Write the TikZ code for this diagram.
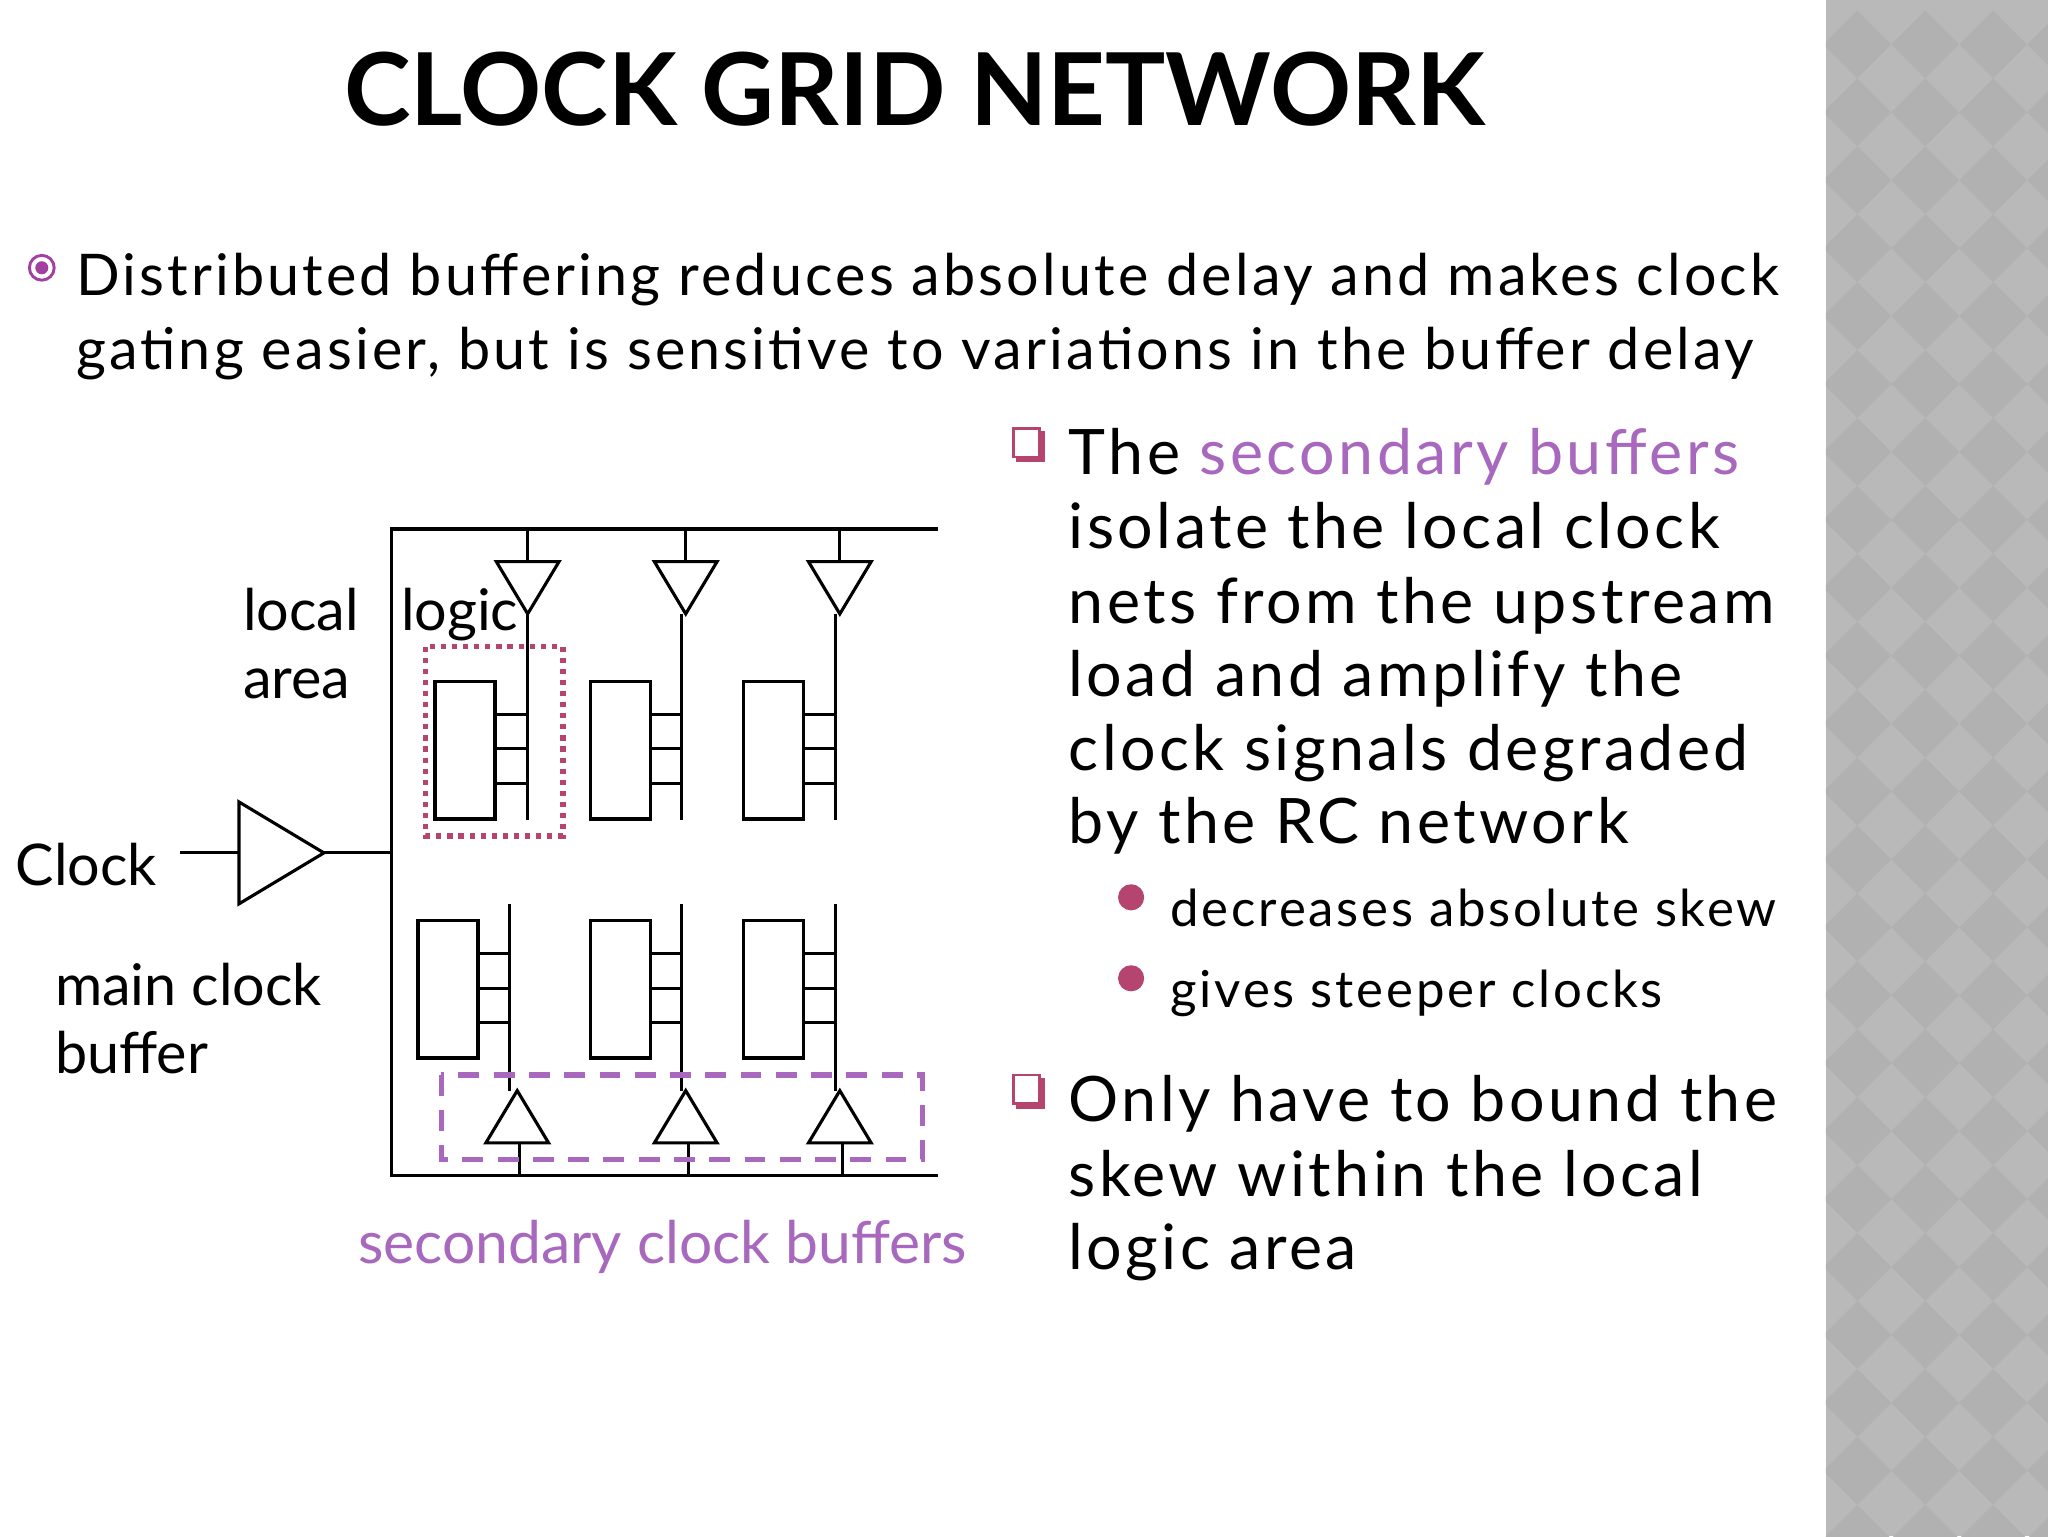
\documentclass[tikz,border=0pt]{standalone}
\usepackage{fontspec}
\setmainfont{Lato}[LetterSpace=5.5]
\newfontfamily\plainlato{Lato}
\definecolor{purp}{HTML}{A868BE}
\definecolor{crim}{HTML}{B5446E}
\definecolor{bulp}{HTML}{A23FA0}
\definecolor{panel}{HTML}{B9B9B9}
\definecolor{panelD}{HTML}{B1B1B1}
\begin{document}
\begin{tikzpicture}[x=1pt,y=-1pt,
  wire/.style={line width=2.4pt,line join=miter},
  txt/.style={inner sep=0pt,anchor=base west,font=\fontsize{44}{52}\selectfont},
  dtxt/.style={inner sep=0pt,anchor=base west,font=\plainlato\fontsize{44}{52}\selectfont},
  rtxt/.style={inner sep=0pt,anchor=base west,font=\fontsize{48}{57}\selectfont},
  stxt/.style={inner sep=0pt,anchor=base west,font=\fontsize{39}{46}\selectfont}]
\useasboundingbox (0,0) rectangle (1568,1176);
\fill[white] (0,0) rectangle (1568,1176);
\fill[panel] (1398,0) rectangle (1568,1176);
\begin{scope}
\clip (1398,0) rectangle (1568,1176);
\foreach \i in {0,...,4}{\foreach \j in {0,...,23}{
  \fill[panelD] ({1422+52*\i},{34+52*\j}) ++(0,-26) -- ++(26,26) -- ++(-26,26) -- ++(-26,-26) -- cycle;}}
\end{scope}
\node[inner sep=0pt,font=\plainlato\fontsize{77}{90}\selectfont\bfseries] (title) at (700,68) {CLOCK GRID NETWORK};
\draw[bulp,line width=2.2pt] (32,205) circle (9.5);
\fill[bulp] (32,205) circle (5);
\node[txt] (l1) at (58,226) {Distributed buffering reduces absolute delay and makes clock};
\node[txt] (l2) at (58,283) {gating easier, but is sensitive to variations in the buffer delay};
\foreach \y/\n in {340/cb1,835/cb2}{
  \fill[crim] (778,\y-10) rectangle (800,\y+14);
  \fill[white] (776,\y-12) rectangle (796,\y+10);
  \draw[crim,line width=2pt] (776,\y-12) rectangle (796,\y+10);}
\node[rtxt] (r1) at (818,363) {The \textcolor{purp}{secondary buffers}};
\node[rtxt] (r2) at (818,420) {isolate the local clock};
\node[rtxt] (r3) at (818,477) {nets from the upstream};
\node[rtxt] (r4) at (818,533) {load and amplify the};
\node[rtxt] (r5) at (818,590) {clock signals degraded};
\node[rtxt] (r6) at (818,646) {by the RC network};
\fill[crim] (866,687) circle (10);
\fill[crim] (866,749) circle (10);
\node[stxt] (s1) at (896,709) {decreases absolute skew};
\node[stxt] (s2) at (896,771) {gives steeper clocks};
\node[rtxt] (q1) at (818,859) {Only have to bound the};
\node[rtxt] (q2) at (818,916) {skew within the local};
\node[rtxt] (q3) at (818,972) {logic area};
\node[dtxt] (la) at (186,483) {local};
\node[dtxt] (lb) at (307,483) {logic};
\node[dtxt] (lc) at (186,535) {area};
\node[dtxt] (ck) at (12,678) {Clock};
\node[dtxt] (m1) at (42,770) {main clock};
\node[dtxt] (m2) at (42,822) {buffer};
\node[dtxt,text=purp,font=\plainlato\fontsize{45}{52}\selectfont] (sb) at (274,967) {secondary clock buffers};
\draw[wire] (718,405) -- (300,405) -- (300,900) -- (718,900);
\draw[wire] (138,653) -- (183,653);
\draw[wire,fill=white] (183,614) -- (183,692) -- (248,653) -- cycle;
\draw[wire] (248,653) -- (300,653);
\foreach \bx/\vx/\rx in {404/404/333,525/522/452,643/640/569}{
  \draw[wire] (\bx,405) -- (\bx,430);
  \draw[wire] (\bx-24,430) -- (\bx+24,430) -- (\bx,470) -- cycle;
  \draw[wire] (\vx,470) -- (\vx,628);
  \draw[wire] (\rx,522) rectangle (\rx+46,627);
  \foreach \sy in {547,573,600}{\draw[wire] (\rx+46,\sy) -- (\vx,\sy);}
}
\foreach \bx/\vx/\rx in {396/390/320,525/522/452,643/640/569}{
  \draw[wire] (\vx,692) -- (\vx,835);
  \draw[wire] (\rx,705) rectangle (\rx+46,810);
  \foreach \sy in {730,757,783}{\draw[wire] (\rx+46,\sy) -- (\vx,\sy);}
  \draw[wire] (\bx-24,875) -- (\bx+24,875) -- (\bx,835) -- cycle;
  \draw[wire] (\bx+2,875) -- (\bx+2,900);
}
\draw[crim,line width=4pt,dash pattern=on 4pt off 4.5pt] (326,495) rectangle (431,640);
\draw[purp,line width=4pt,dash pattern=on 16pt off 11pt] (338,823) rectangle (706,888);
\end{tikzpicture}
\end{document}
